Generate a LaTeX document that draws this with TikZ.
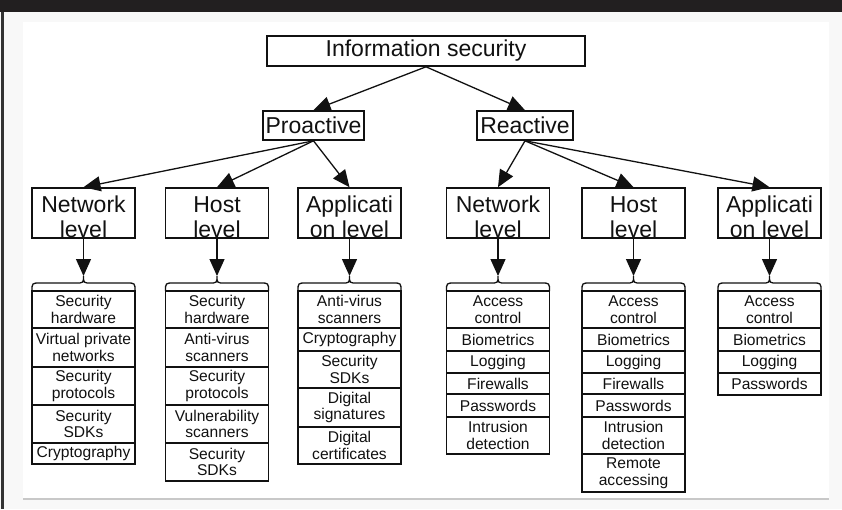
\documentclass[tikz,border=0pt]{standalone}
\usepackage{fontspec}
\setmainfont{Liberation Sans}
\usetikzlibrary{arrows.meta}
\definecolor{ink}{HTML}{111111}
\definecolor{barc}{HTML}{221F20}
\definecolor{bgc}{HTML}{F8F8F8}
\definecolor{edgec}{HTML}{333333}
\definecolor{rulec}{HTML}{C8C8C8}
\newcommand\mycell[5]{%
  \pgfmathsetmacro\cy{(#3+#4)/2}\pgfmathsetmacro\ch{#4-#3}%
  \node[cell, minimum height=\ch pt] (#1) at (#2,\cy) {#5};}
\newcommand\mybrace[2]{%
  \coordinate (#1) at (#2,276);
  \draw[bracestyle] ({#2-51.5},291) .. controls ({#2-51.5},283) .. ({#2-43},283) -- ({#2-8},283)
     .. controls (#2,283) .. (#1) .. controls (#2,283) .. ({#2+8},283) -- ({#2+43},283)
     .. controls ({#2+51.5},283) .. ({#2+51.5},291);}
\begin{document}
\begin{tikzpicture}[x=1pt,y=-1pt,
  topbox/.style={draw=ink, line width=1.6pt, inner sep=0pt, text=ink, font=\fontsize{23}{25}\selectfont},
  lvlbox/.style={draw=ink, line width=1.6pt, minimum width=103pt, minimum height=50pt, inner sep=0pt},
  lvltxt/.style={inner sep=0pt, anchor=base, text=ink, font=\fontsize{23}{25}\selectfont},
  cell/.style={draw=ink, line width=1.5pt, minimum width=103pt, inner sep=0pt, align=center, text=ink, font=\fontsize{15.6}{16.6}\selectfont},
  arr/.style={-{Triangle[length=17pt,width=15pt]}, line width=1.3pt, draw=ink},
  bracestyle/.style={line width=1.3pt, draw=ink}]
\useasboundingbox (0,0) rectangle (842,509);
% page background
\fill[bgc] (0,0) rectangle (842,509);
\fill[white] (23,22) rectangle (829,498);
\draw[rulec, line width=1.5pt] (23,499) -- (829,499);
\fill[barc] (0,0) rectangle (842,12);
\fill[edgec] (1,12) rectangle (3.5,509);

% top levels
\node[topbox, minimum width=318pt, minimum height=30pt] (info) at (426,51) {Information security};
\node[topbox, minimum width=101pt, minimum height=29pt] (pro) at (313.5,125.5) {Proactive};
\node[topbox, minimum width=96pt, minimum height=29pt] (rea) at (525,125.5) {Reactive};
\draw[arr] (info.south) -- (pro.north);
\draw[arr] (info.south) -- (rea.north);

% level boxes
\foreach \nm/\xx/\la/\lb in {nl/83.5/Network/level, hl/217/Host/level, al/349.5/Applicati/on level,
                             rnl/498/Network/level, rhl/633.5/Host/level, ral/769.5/Applicati/on level}{
  \node[lvlbox] (\nm) at (\xx,213) {};
  \node[lvltxt] (\nm-a) at (\xx,212) {\la};
  \node[lvltxt] (\nm-b) at (\xx,237) {\lb};
  \mybrace{\nm-br}{\xx}
  \draw[arr] (\nm.south) -- (\nm-br);
}
\draw[arr] (pro.south) -- (nl.north);
\draw[arr] (pro.south) -- (hl.north);
\draw[arr] (pro.south) -- (al.north);
\draw[arr] (rea.south) -- (rnl.north);
\draw[arr] (rea.south) -- (rhl.north);
\draw[arr] (rea.south) -- (ral.north);

% Proactive / Network level
\mycell{nl1}{83.5}{291}{328}{Security\\hardware}
\mycell{nl2}{83.5}{328}{367}{Virtual private\\networks}
\mycell{nl3}{83.5}{367}{405}{Security\\protocols}
\mycell{nl4}{83.5}{405}{443}{Security\\SDKs}
\mycell{nl5}{83.5}{443}{464}{Cryptography}
% Proactive / Host level
\mycell{hl1}{217}{291}{328}{Security\\hardware}
\mycell{hl2}{217}{328}{367}{Anti-virus\\scanners}
\mycell{hl3}{217}{367}{405}{Security\\protocols}
\mycell{hl4}{217}{405}{443}{Vulnerability\\scanners}
\mycell{hl5}{217}{443}{481}{Security\\SDKs}
% Proactive / Application level
\mycell{al1}{349.5}{291}{328}{Anti-virus\\scanners}
\mycell{al2}{349.5}{328}{351}{Cryptography}
\mycell{al3}{349.5}{351}{388}{Security\\SDKs}
\mycell{al4}{349.5}{388}{427}{Digital\\signatures}
\mycell{al5}{349.5}{427}{464}{Digital\\certificates}
% Reactive / Network level
\mycell{rnl1}{498}{291}{328}{Access\\control}
\mycell{rnl2}{498}{328}{351}{Biometrics}
\mycell{rnl3}{498}{351}{373}{Logging}
\mycell{rnl4}{498}{373}{394}{Firewalls}
\mycell{rnl5}{498}{394}{417}{Passwords}
\mycell{rnl6}{498}{417}{454}{Intrusion\\detection}
% Reactive / Host level
\mycell{rhl1}{633.5}{291}{328}{Access\\control}
\mycell{rhl2}{633.5}{328}{351}{Biometrics}
\mycell{rhl3}{633.5}{351}{373}{Logging}
\mycell{rhl4}{633.5}{373}{394}{Firewalls}
\mycell{rhl5}{633.5}{394}{417}{Passwords}
\mycell{rhl6}{633.5}{417}{454}{Intrusion\\detection}
\mycell{rhl7}{633.5}{454}{492}{Remote\\accessing}
% Reactive / Application level
\mycell{ral1}{769.5}{291}{328}{Access\\control}
\mycell{ral2}{769.5}{328}{351}{Biometrics}
\mycell{ral3}{769.5}{351}{373}{Logging}
\mycell{ral4}{769.5}{373}{395}{Passwords}
\end{tikzpicture}
\end{document}
